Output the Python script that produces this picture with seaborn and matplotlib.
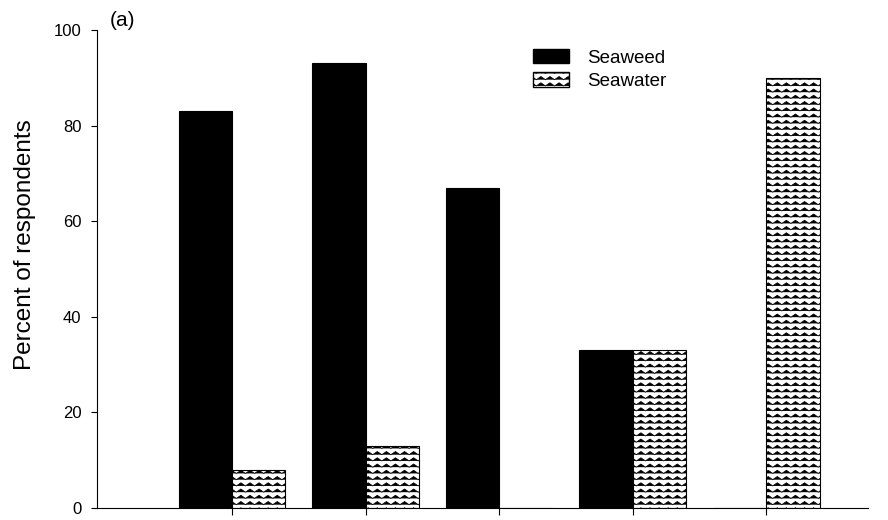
import warnings
import numpy as np
import pandas as pd
import matplotlib
matplotlib.use('Agg')
import matplotlib.pyplot as plt
import matplotlib.hatch as mhatch
from matplotlib.path import Path
from matplotlib.patches import Patch
import seaborn as sns

warnings.filterwarnings('ignore')

# dados
grupos = ['G1', 'G2', 'G3', 'G4', 'G5']
seaweed = [83, 93, 67, 33, 0]
seawater = [8, 13, 0, 33, 90]


# hachura em zigue-zague (matplotlib nao tem uma pronta)
class ZigZagHatch(mhatch.HatchPatternBase):
    def __init__(self, hatch, density):
        self.num_rows = int(round(hatch.count('z') * density * 0.9))
        self.num_teeth = int(round(self.num_rows * 0.7))
        if self.num_rows:
            self.num_vertices = self.num_rows * (2 * self.num_teeth + 1)
        else:
            self.num_vertices = 0

    def set_vertices_and_codes(self, vertices, codes):
        n = 2 * self.num_teeth + 1
        amp = 0.5 / self.num_rows
        xs = np.linspace(0, 1, n)
        k = 0
        for i in range(self.num_rows):
            y0 = (i + 0.25) / self.num_rows
            ys = y0 + np.where(np.arange(n) % 2 == 1, amp, 0.0)
            vertices[k:k + n, 0] = xs
            vertices[k:k + n, 1] = ys
            codes[k] = Path.MOVETO
            codes[k + 1:k + n] = Path.LINETO
            k += n


mhatch._hatch_types.append(ZigZagHatch)

df = pd.DataFrame({
    'Grupo': grupos * 2,
    'Material': ['Seaweed'] * len(grupos) + ['Seawater'] * len(grupos),
    'Percentual': seaweed + seawater,
})

sns.set_style('ticks')
plt.rcParams['font.family'] = ['Liberation Sans', 'DejaVu Sans']
plt.rcParams['hatch.linewidth'] = 0.6
for chave in ['text.color', 'axes.labelcolor', 'xtick.color', 'ytick.color', 'axes.edgecolor']:
    plt.rcParams[chave] = 'black'

fig = plt.figure(figsize=(8.88, 5.2), dpi=100)
ax = fig.add_axes([97 / 888, 1 - 508 / 520, (868 - 97) / 888, (508 - 30) / 520])

sns.barplot(data=df, x='Grupo', y='Percentual', hue='Material',
            palette={'Seaweed': 'black', 'Seawater': 'white'},
            saturation=1, edgecolor='black', linewidth=0.8,
            width=0.8, ax=ax, legend=False)

for barra in ax.containers[1]:
    barra.set_hatch('zzz')

ax.set_xlim(-1.01, 4.76)
ax.set_ylim(0, 100)
ax.set_yticks([0, 20, 40, 60, 80, 100])
ax.set_xticks(range(len(grupos)))
ax.set_xticklabels([])
ax.set_xlabel('')
ax.set_ylabel('Percent of respondents', fontsize=17.5)
ax.yaxis.set_label_coords(-0.079, (508 - 245) / 478)
ax.tick_params(axis='y', labelsize=12, length=4.3, width=0.8, pad=7, direction='out')
ax.tick_params(axis='x', length=5, width=0.8, direction='out')
for lado in ['top', 'right']:
    ax.spines[lado].set_visible(False)
for lado in ['left', 'bottom']:
    ax.spines[lado].set_linewidth(0.8)

handles = [Patch(facecolor='black', edgecolor='black', label='Seaweed'),
           Patch(facecolor='white', edgecolor='black', hatch='zzz', label='Seawater')]
ax.legend(handles=handles, loc='upper left', bbox_to_anchor=(533 / 888, 1 - 49 / 520),
          bbox_transform=fig.transFigure, frameon=False, fontsize=13.5,
          handlelength=1.92, handleheight=0.8, handletextpad=0.96,
          labelspacing=0.3, borderpad=0, borderaxespad=0)

fig.text(110 / 888, 1 - 20 / 520, '(a)', fontsize=15, va='center', ha='left')

fig.savefig('out.png', dpi=100)
